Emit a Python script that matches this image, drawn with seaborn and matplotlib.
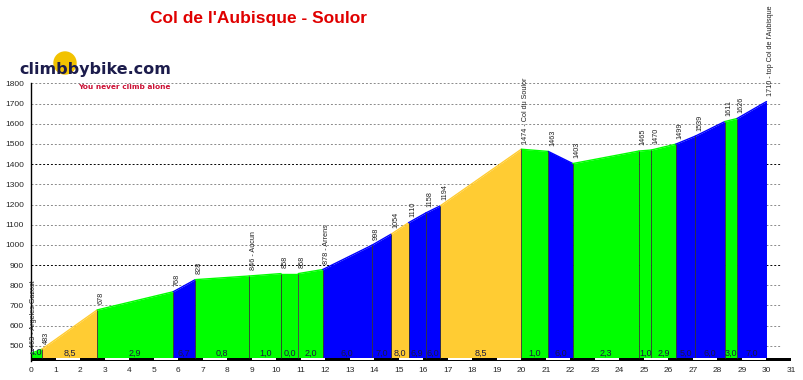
import numpy as np
import pandas as pd
import matplotlib
matplotlib.use("Agg")
import matplotlib.pyplot as plt
from matplotlib.patches import Ellipse
import seaborn as sns

# profile points (km, altitude)
km = [0.0, 0.44, 2.7, 5.8, 6.7, 8.9, 10.2, 10.9, 11.9, 13.9, 14.7, 15.4,
      16.1, 16.7, 20.0, 21.1, 22.1, 24.8, 25.3, 26.3, 27.1, 28.3, 28.8, 30.0]
elev = [463, 483, 678, 768, 828, 846, 858, 858, 878, 998, 1054, 1110,
        1158, 1194, 1474, 1463, 1403, 1465, 1470, 1499, 1539, 1611, 1626, 1710]
point_labels = ['463 - Argeles Gazost', '483', '678', '768', '828', '846 - Aucun',
                '858', '858', '878 - Arrens', '998', '1054', '1110', '1158', '1194',
                '1474 - Col du Soulor', '1463', '1403', '1465', '1470', '1499',
                '1539', '1611', '1626', "1710 - top Col de l'Aubisque"]
grade_labels = ['4.0', '8,5', '2,9', '6,7', '0,8', '1,0', '0,0', '2,0', '6,0', '7,0',
                '8,0', '6,9', '6,0', '8,5', '1,0', '6,0', '2,3', '1,0', '2,9', '5,0',
                '6,0', '3,0', '7,0']
y_ticks = list(range(500, 1900, 100))
x_ticks = list(range(0, 32))

df = pd.DataFrame({'km': km, 'elev': elev, 'label': point_labels})

sns.set_theme(style='white')
plt.rcParams['font.family'] = ['Liberation Sans', 'DejaVu Sans']


def grade_colour(g):
    g = float(g.replace(',', '.'))
    if g < 5:
        return '#00ff00'
    if g < 8:
        return '#0000ff'
    return '#ffcc33'


base = 442
fig = plt.figure(figsize=(8.04, 3.8), dpi=100)
ax = fig.add_axes([31 / 804, 19 / 380, 760 / 804, 277.6 / 380])

# grid
for y in y_ticks:
    col = '#000000' if y in (900, 1400) else '#8a8a8a'
    ax.hlines(y, 0, 30.6, colors=col, linestyles=(0, (2, 2)), lw=0.7, zorder=0)

# coloured segments
for i in range(len(km) - 1):
    seg = df.iloc[i:i + 2]
    c = grade_colour(grade_labels[i])
    ax.fill_between(seg['km'], seg['elev'], base, color=c, lw=0, zorder=2)
    sns.lineplot(data=seg, x='km', y='elev', color=c, lw=1, ax=ax, zorder=3)
    ax.text((km[i] + km[i + 1]) / 2, base + 1, grade_labels[i], ha='center',
            va='bottom', fontsize=6.5, color='#1a1a40', zorder=5)

ax.vlines(km[1:-1], base, elev[1:-1], colors='#303030', lw=0.6, zorder=4)

# altitude labels
for k, e, t in zip(km, elev, point_labels):
    dx = 1.5 if k == 0 else 3
    ax.annotate(t, (k, e), xytext=(dx, 4), textcoords='offset points',
                rotation=90, ha='center', va='bottom', fontsize=5.2, color='#222222')

# km strip
ax.bar(0, 17, width=31, bottom=425, align='edge', color='black', lw=0, zorder=3)
odd = [x for x in range(1, 31, 2)]
ax.bar(odd, 10, width=1, bottom=428.5, align='edge', color='white', lw=0, zorder=4)

ax.set_xlim(0, 31)
ax.set_ylim(425, 1800)
ax.set_yticks(y_ticks)
ax.set_xticks(x_ticks)
ax.tick_params(axis='y', length=3, width=0.8, labelsize=6, pad=2, color='black')
ax.tick_params(axis='x', length=0, labelsize=6, pad=4)
ax.set_xlabel('')
ax.set_ylabel('')
for s in ['top', 'right', 'bottom']:
    ax.spines[s].set_visible(False)
ax.spines['left'].set_color('black')
ax.spines['left'].set_linewidth(1)

# title and logo
fig.text(259 / 804, 1 - 18 / 380, "Col de l'Aubisque - Soulor", ha='center', va='center',
         fontsize=12.5, fontweight='bold', color='#e00000')
fig.patches.append(Ellipse((65 / 804, 1 - 63 / 380), 22 / 804, 22 / 380,
                           transform=fig.transFigure, color='#f2c200', zorder=0))
fig.text(19 / 804, 1 - 74.3 / 380, 'climbbybike.com', ha='left', va='baseline',
         fontsize=11.5, fontweight='bold', color='#1c1c4c', family='DejaVu Sans')
fig.text(78 / 804, 1 - 88.7 / 380, 'You never climb alone', ha='left', va='baseline',
         fontsize=5.3, fontweight='bold', color='#cc1034', family='DejaVu Sans')

fig.savefig('out.png', dpi=100)
